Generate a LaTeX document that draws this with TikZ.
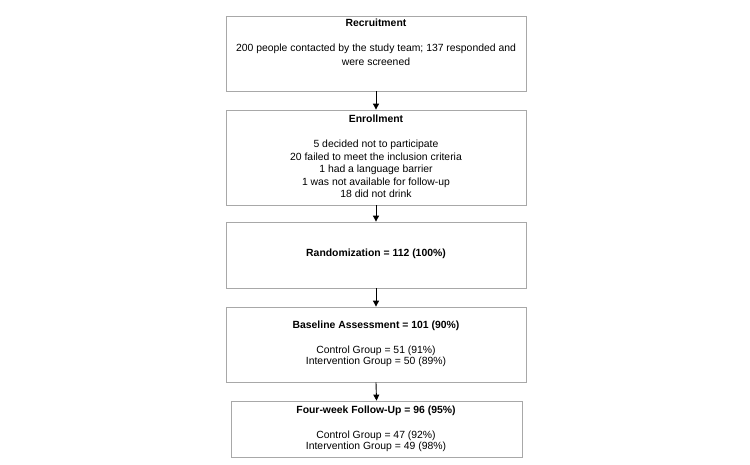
\documentclass[tikz,border=0pt]{standalone}
\usepackage{fontspec}
\setmainfont{Liberation Sans}
\usetikzlibrary{arrows.meta}
\definecolor{boxgray}{HTML}{A8A8A8}
\tikzset{
  box/.style={draw=boxgray, line width=0.8pt, fill=white, inner sep=0pt, minimum width=300pt},
  txt/.style={inner sep=0pt, align=center},
  conn/.style={-{Triangle[length=6pt,width=6pt]}, line width=0.9pt, black}
}
\begin{document}
\begin{tikzpicture}[x=1pt,y=-1pt]
\useasboundingbox (0,0) rectangle (750,465);
% boxes
\node[box, minimum height=75pt] (b1) at (376,53.5) {};
\node[box, minimum height=95pt] (b2) at (376,157.5) {};
\node[box, minimum height=66pt] (b3) at (376,255) {};
\node[box, minimum height=75pt] (b4) at (376,344.5) {};
\node[box, minimum width=291pt, minimum height=56pt] (b5) at (376.5,429) {};
% texts
\node[txt, font=\fontsize{10.4}{12}\selectfont\bfseries] (t1) at (376,23) {Recruitment};
\node[txt, font=\fontsize{10.4}{14}\selectfont] (t1b) at (376,55) {200 people contacted by the study team; 137 responded and\\were screened};
\node[txt, font=\fontsize{10.4}{12}\selectfont\bfseries] (t2) at (376,119) {Enrollment};
\node[txt, font=\fontsize{10.4}{12.5}\selectfont] (t2b) at (376,169) {5 decided not to participate\\20 failed to meet the inclusion criteria\\1 had a language barrier\\1 was not available for follow-up\\18 did not drink};
\node[txt, font=\fontsize{10.4}{12}\selectfont\bfseries] (t3) at (376,254) {Randomization = 112 (100\%)};
\node[txt, font=\fontsize{10.4}{12}\selectfont\bfseries] (t4) at (376,326) {Baseline Assessment = 101 (90\%)};
\node[txt, font=\fontsize{10.4}{11.5}\selectfont] (t4b) at (376,356.5) {Control Group = 51 (91\%)\\Intervention Group = 50 (89\%)};
\node[txt, font=\fontsize{10.4}{12}\selectfont\bfseries] (t5) at (376,411) {Four-week Follow-Up = 96 (95\%)};
\node[txt, font=\fontsize{10.4}{11.5}\selectfont] (t5b) at (376,441.5) {Control Group = 47 (92\%)\\Intervention Group = 49 (98\%)};
% connectors
\draw[conn] (b1.south) -- (b2.north);
\draw[conn] (b2.south) -- (b3.north);
\draw[conn] (b3.south) -- (b4.north);
\draw[conn] (b4.south) -- (b5.north);
\end{tikzpicture}
\end{document}
